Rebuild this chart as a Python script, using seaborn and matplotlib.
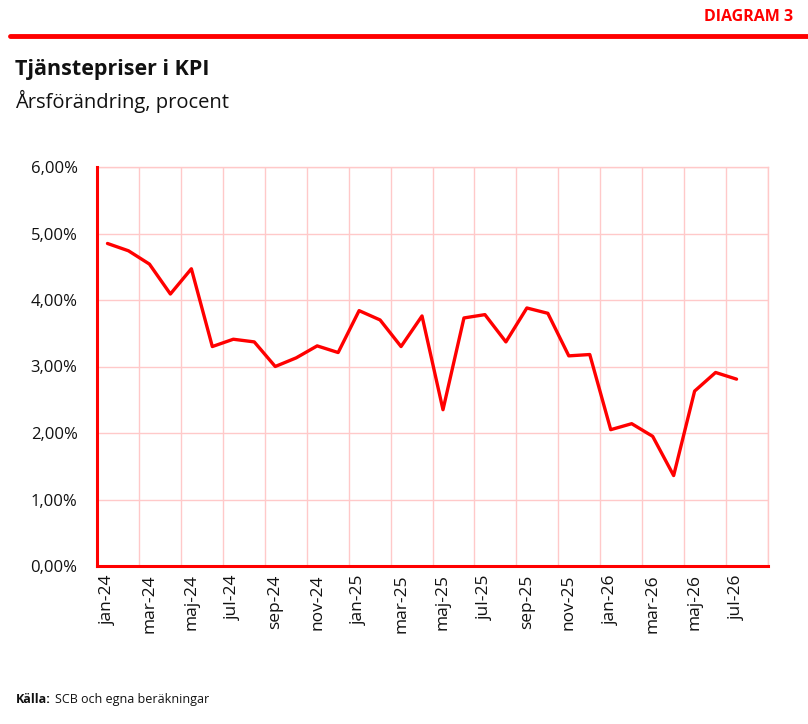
import numpy as np
import pandas as pd
import matplotlib
matplotlib.use("Agg")
import matplotlib.pyplot as plt
import seaborn as sns
from matplotlib.ticker import FuncFormatter, FixedLocator

# Data: monthly months, jan-24 .. aug-26 (aug-26 has no value yet)
months = ["jan-24", "feb-24", "mar-24", "apr-24", "maj-24", "jun-24", "jul-24", "aug-24",
          "sep-24", "okt-24", "nov-24", "dec-24", "jan-25", "feb-25", "mar-25", "apr-25",
          "maj-25", "jun-25", "jul-25", "aug-25", "sep-25", "okt-25", "nov-25", "dec-25",
          "jan-26", "feb-26", "mar-26", "apr-26", "maj-26", "jun-26", "jul-26", "aug-26"]
values = [4.85, 4.74, 4.54, 4.09, 4.47, 3.30, 3.41, 3.37, 3.00, 3.13, 3.31, 3.21,
          3.84, 3.70, 3.30, 3.76, 2.35, 3.73, 3.78, 3.37, 3.88, 3.80, 3.16, 3.18,
          2.05, 2.14, 1.95, 1.36, 2.63, 2.91, 2.81]
y_ticks = [0, 1, 2, 3, 4, 5, 6]

RED = "#ff0000"
GRID = "#ffc9c9"

sns.set_theme(style="white")
plt.rcParams["font.family"] = ["Open Sans", "DejaVu Sans"]

df = pd.DataFrame({"pos": np.arange(len(values)), "value": values})

fig = plt.figure(figsize=(8.08, 7.24), dpi=100)
ax = fig.add_axes([97 / 808, 1 - 566 / 724, (768 - 97) / 808, (566 - 167) / 724])

sns.lineplot(data=df, x="pos", y="value", ax=ax, color=RED, linewidth=2.4)

ax.set_xlim(-0.5, len(months) - 0.5)
ax.set_ylim(0, 6)
ax.set_yticks(y_ticks)
ax.yaxis.set_major_formatter(FuncFormatter(lambda v, p: f"{v:.2f}".replace(".", ",") + "%"))

label_pos = list(range(0, len(months), 2))
ax.xaxis.set_major_locator(FixedLocator(label_pos))
ax.set_xticklabels([months[i] for i in label_pos], rotation=90)
ax.xaxis.set_minor_locator(FixedLocator(np.arange(-0.5, len(months), 2)))

ax.grid(False)
ax.grid(True, which="minor", axis="x", color=GRID, linewidth=1)
ax.grid(True, which="major", axis="y", color=GRID, linewidth=1)
ax.set_axisbelow(True)

ax.tick_params(axis="both", which="both", length=0)
ax.tick_params(axis="y", labelsize=12, pad=14, colors="#111111")
ax.tick_params(axis="x", labelsize=12.5, pad=6, colors="#111111")
ax.set_xlabel("")
ax.set_ylabel("")

for s in ["top", "right"]:
    ax.spines[s].set_color(GRID)
    ax.spines[s].set_linewidth(1)
for s in ["left", "bottom"]:
    ax.spines[s].set_color(RED)
    ax.spines[s].set_linewidth(2.2)
    ax.spines[s].set_zorder(5)

# header
fig.add_artist(plt.Line2D([10 / 808, 1.0], [1 - 36 / 724] * 2, color=RED, linewidth=3.5))
fig.text(793 / 808, 1 - 17 / 724, "DIAGRAM 3", color=RED, fontsize=11.5,
         fontweight="bold", ha="right", va="center")
fig.text(15 / 808, 1 - 69 / 724, "Tjänstepriser i KPI", color="#111111", fontsize=15.5,
         fontweight="bold", ha="left", va="center")
fig.text(15 / 808, 1 - 101 / 724, "Årsförändring, procent", color="#111111", fontsize=14.5,
         ha="left", va="center")

# source
t = fig.text(16 / 808, 1 - 703 / 724, "Källa:", color="#111111", fontsize=9,
             fontweight="bold", ha="left", va="baseline")
fig.canvas.draw()
bb = t.get_window_extent()
fig.text((bb.x1 + 4) / 808, 1 - 703 / 724, "SCB och egna beräkningar", color="#111111",
         fontsize=9, ha="left", va="baseline")

fig.savefig("out.png", dpi=100)
